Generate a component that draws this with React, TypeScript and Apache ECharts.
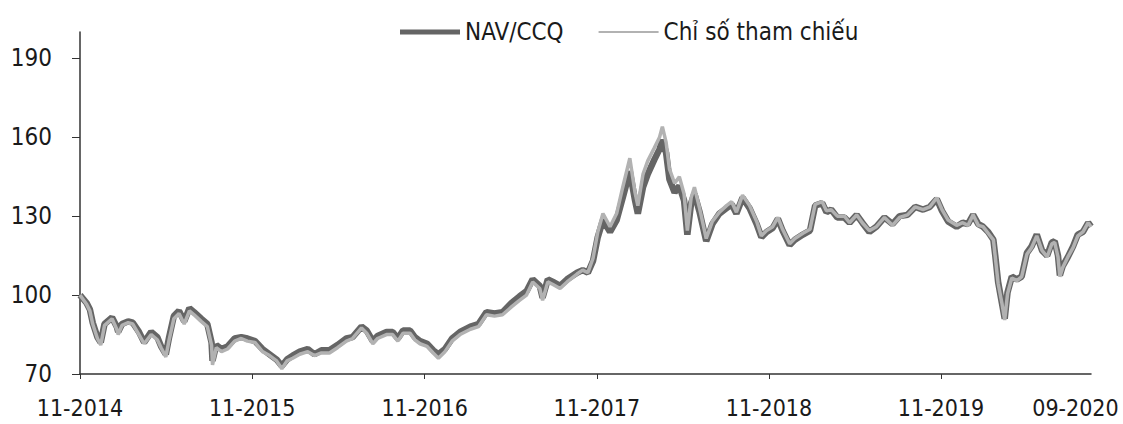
import React, { useEffect, useRef } from "react";
import * as echarts from "echarts";

const dates = [
  "2014-11-01","2014-11-15","2014-11-22","2014-11-28","2014-12-08","2014-12-15","2014-12-23",
  "2015-01-08","2015-01-18","2015-01-21","2015-01-29","2015-02-11","2015-02-21","2015-03-06",
  "2015-03-17","2015-04-01","2015-04-14","2015-04-22","2015-05-02","2015-05-09","2015-05-19",
  "2015-05-30","2015-06-10","2015-06-21","2015-07-01","2015-07-16","2015-07-29","2015-08-07",
  "2015-08-09","2015-08-17","2015-08-28","2015-09-10","2015-09-25","2015-10-09","2015-10-22",
  "2015-11-07","2015-11-23","2015-12-08","2015-12-23","2016-01-03","2016-01-14","2016-01-26",
  "2016-02-10","2016-02-27","2016-03-12","2016-03-27","2016-04-13","2016-04-30","2016-05-19",
  "2016-06-01","2016-06-20","2016-07-01","2016-07-14","2016-07-24","2016-08-12","2016-08-25",
  "2016-09-05","2016-09-16","2016-10-01","2016-10-11","2016-10-22","2016-11-06","2016-11-19",
  "2016-11-30","2016-12-14","2016-12-29","2017-01-15","2017-02-06","2017-02-23","2017-03-12",
  "2017-03-29","2017-04-15","2017-05-04","2017-05-21","2017-06-05","2017-06-18","2017-07-03",
  "2017-07-09","2017-07-20","2017-07-31","2017-08-15","2017-08-30","2017-09-20","2017-10-02",
  "2017-10-13","2017-10-24","2017-11-03","2017-11-14","2017-11-29","2017-12-13","2017-12-26",
  "2018-01-10","2018-01-21","2018-01-27","2018-02-07","2018-02-17","2018-03-03","2018-03-14",
  "2018-03-20","2018-03-28","2018-04-04","2018-04-15","2018-04-25","2018-05-05","2018-05-12",
  "2018-05-20","2018-05-27","2018-06-07","2018-06-21","2018-07-04","2018-07-19","2018-08-03",
  "2018-08-14","2018-08-24","2018-09-06","2018-09-21","2018-10-06","2018-10-16","2018-10-27",
  "2018-11-09","2018-11-20","2018-11-30","2018-12-15","2018-12-26","2019-01-12","2019-01-27",
  "2019-02-07","2019-02-22","2019-03-03","2019-03-13","2019-03-26","2019-04-10","2019-04-21",
  "2019-05-06","2019-05-18","2019-06-02","2019-06-17","2019-07-04","2019-07-21","2019-08-05",
  "2019-08-22","2019-09-07","2019-09-24","2019-10-08","2019-10-23","2019-11-03","2019-11-16",
  "2019-12-04","2019-12-17","2019-12-28","2020-01-08","2020-01-19","2020-01-29","2020-02-09",
  "2020-02-20","2020-02-24","2020-03-01","2020-03-09","2020-03-15","2020-03-21","2020-03-30",
  "2020-04-10","2020-04-20","2020-05-01","2020-05-11","2020-05-22","2020-06-02","2020-06-13",
  "2020-06-23","2020-06-29","2020-07-06","2020-07-10","2020-07-16","2020-07-27","2020-08-07",
  "2020-08-17","2020-08-28","2020-09-08","2020-09-14",
];

const navValues = [
  100, 97, 94.5, 89.5, 84, 82, 89,
  91.5, 88, 86, 89, 90, 89.5, 86,
  82, 86, 84, 80.5, 77.5, 84, 92,
  94, 90, 95, 93.5, 91, 89, 82,
  75, 81, 79.5, 80.5, 83.5, 84, 83.5,
  82.5, 79.5, 77.5, 75.5, 73, 75.5, 77,
  78.5, 79.5, 77.5, 79, 79, 81, 83.5,
  84, 88, 86.5, 82.5, 84.5, 86, 86,
  83.5, 86.5, 86.5, 84, 82.5, 81.5, 79,
  77.5, 79.5, 83.5, 86, 88, 89, 93.5,
  93, 93.5, 97, 99.5, 101.5, 106, 103.5,
  99, 106, 105, 103.5, 106, 108.5, 109.5,
  108.5, 113, 122, 128.5, 124, 128.5, 137,
  147, 136, 131, 141, 146, 151.5, 155.5,
  159, 154, 144, 139, 141.5, 136, 123,
  135, 138.5, 131.5, 120.5, 127, 131, 133,
  134.5, 131, 137, 133, 127, 122, 124,
  125.5, 129, 124.5, 119, 121, 123, 124.5,
  134, 135, 131.5, 132.5, 129.5, 129.5, 127.5,
  130.5, 127.5, 124, 126, 129.5, 127, 130,
  130.5, 133.5, 132.5, 133.5, 136.5, 132, 128,
  126, 127.5, 127, 130.5, 127, 126, 124,
  121, 115, 105, 97, 91, 101, 107,
  106, 107, 116, 118.5, 123, 117, 115,
  120, 120.5, 115, 107.5, 111, 114.5, 118.5,
  123, 124, 127.5, 126,
];

const refValues = [
  100, 96.5, 94, 89, 83.5, 81, 88.5,
  91, 87, 85, 88.5, 89.5, 89, 85,
  81.5, 85, 83, 80, 76.5, 83, 91,
  93, 89, 94, 92.5, 90, 88, 81,
  73.5, 80, 78.5, 79.5, 82.5, 83.5, 82.5,
  82, 78.5, 77, 75, 72, 75, 76,
  77.5, 78.5, 77, 78, 78, 80, 82.5,
  83.5, 87.5, 85.5, 81.5, 83.5, 85, 85,
  82.5, 85.5, 85.5, 83, 81.5, 80.5, 78,
  76, 78.5, 82.5, 85, 87, 88, 92.5,
  92, 92.5, 95.5, 98, 100, 105, 102.5,
  98, 105, 104, 102.5, 105, 108, 109.5,
  108.5, 114, 124, 131, 126, 131, 141,
  152, 139, 134, 146, 151, 156, 160,
  164, 158, 148, 142.5, 145, 138.5, 124.5,
  137, 141, 133, 121.5, 128, 131.5, 134,
  135.5, 131.5, 138, 134, 128, 122.5, 124.5,
  126, 129.5, 125, 119.5, 121.5, 123.5, 125,
  134.5, 135.5, 132, 132.5, 130, 130, 127.5,
  130.5, 127.5, 124.5, 126, 129.5, 126.5, 129.5,
  130.5, 133.5, 132.5, 133.5, 137, 132.5, 128.5,
  126.5, 127.5, 126.5, 130.5, 126.5, 126, 123.5,
  121, 114.5, 104.5, 97, 90.5, 100.5, 106.5,
  105.5, 107, 115.5, 118, 122.5, 117, 114.5,
  119.5, 120, 114.5, 107, 110.5, 114.5, 118,
  122.5, 124, 127.5, 126,
];

const seriesNames = ["NAV/CCQ", "Chỉ số tham chiếu"];
const yTickValues = [70, 100, 130, 160, 190];
const xTickDates = ["2014-11-01", "2015-11-01", "2016-11-01", "2017-11-01", "2018-11-01", "2019-11-01"];
// label anchor positions and their texts (last one sits just inside the axis end, as in the reference)
const xLabelDates = [...xTickDates, "2020-08-12"];
const xLabelTexts = ["11-2014", "11-2015", "11-2016", "11-2017", "11-2018", "11-2019", "09-2020"];
const xMin = "2014-11-01";
const xMax = "2020-09-14";

const FONT = "'Liberation Sans Narrow', 'Arial Narrow', 'DejaVu Sans Condensed', sans-serif";
const NAV_COLOR = "#656565";
const REF_COLOR = "#b2b2b2";

function ts(d: string): number {
  const [y, m, day] = d.split("-").map(Number);
  return Date.UTC(y, m - 1, day);
}

export default function App() {
  const ref = useRef<HTMLDivElement>(null);
  useEffect(() => {
    if (!ref.current) return;
    const chart = echarts.init(ref.current, null, { renderer: "svg" });
    const labelTs = xLabelDates.map(ts);
    chart.setOption({
      animation: false,
      backgroundColor: "#ffffff",
      grid: { left: 80, right: 32, top: 32, bottom: 50, outerBoundsMode: "none" },
      legend: {
        left: 395,
        top: 15,
        itemWidth: 60,
        itemHeight: 14,
        itemGap: 35,
        textStyle: { fontFamily: FONT, fontSize: 24, color: "#1a1a1a" },
        data: [
          { name: seriesNames[0], icon: "path://M0,0H60V5H0Z", itemStyle: { color: NAV_COLOR } },
          { name: seriesNames[1], icon: "path://M0,0H56V2H0Z", itemStyle: { color: REF_COLOR } },
        ],
      },
      xAxis: {
        type: "value",
        min: ts(xMin),
        max: ts(xMax),
        splitLine: { show: false },
        axisLine: { lineStyle: { color: "#333", width: 1.5 } },
        axisTick: {
          length: 5,
          lineStyle: { color: "#333" },
          customValues: xTickDates.map(ts),
        },
        axisLabel: {
          customValues: labelTs,
          margin: 22,
          fontFamily: FONT,
          fontSize: 23,
          color: "#1a1a1a",
          formatter: (v: number) => {
            let best = 0;
            for (let i = 1; i < labelTs.length; i++) {
              if (Math.abs(labelTs[i] - v) < Math.abs(labelTs[best] - v)) best = i;
            }
            return xLabelTexts[best];
          },
        },
      },
      yAxis: {
        type: "value",
        min: 70,
        max: 200,
        splitLine: { show: false },
        axisLine: { show: true, lineStyle: { color: "#333", width: 1.5 } },
        axisTick: {
          show: true,
          length: 8,
          lineStyle: { color: "#333" },
          customValues: yTickValues,
        },
        axisLabel: {
          customValues: yTickValues,
          margin: 28,
          fontFamily: FONT,
          fontSize: 24,
          color: "#1a1a1a",
        },
      },
      series: [
        {
          name: seriesNames[0],
          type: "line",
          showSymbol: false,
          symbol: "none",
          lineStyle: { color: NAV_COLOR, width: 6.5 },
          itemStyle: { color: NAV_COLOR },
          data: dates.map((d, i) => [ts(d), navValues[i]]),
        },
        {
          name: seriesNames[1],
          type: "line",
          showSymbol: false,
          symbol: "none",
          lineStyle: { color: REF_COLOR, width: 3.5 },
          itemStyle: { color: REF_COLOR },
          data: dates.map((d, i) => [ts(d), refValues[i]]),
        },
      ],
    });
    return () => chart.dispose();
  }, []);
  return (
    <div
      ref={ref}
      style={{ position: "absolute", left: 0, top: 0, width: 1123, height: 424 }}
    />
  );
}
